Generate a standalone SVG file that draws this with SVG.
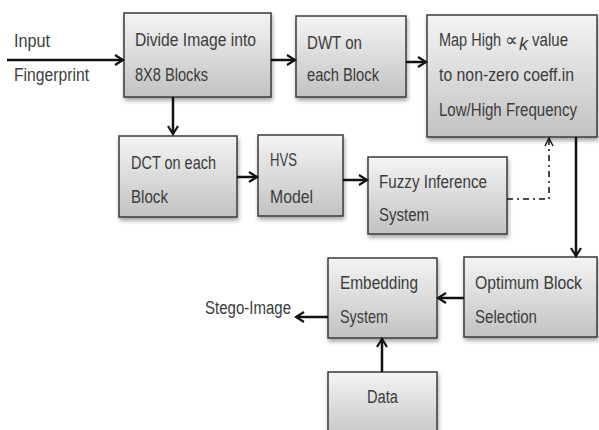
<svg xmlns="http://www.w3.org/2000/svg" width="599" height="430" viewBox="0 0 599 430">
<defs>
  <linearGradient id="g" x1="0" y1="0" x2="0" y2="1">
    <stop offset="0" stop-color="#f4f4f4"/>
    <stop offset="1" stop-color="#c2c2c2"/>
  </linearGradient>
  <filter id="sh" x="-10%" y="-10%" width="130%" height="130%">
    <feGaussianBlur in="SourceAlpha" stdDeviation="2"/>
    <feOffset dx="1" dy="3" result="b"/>
    <feComponentTransfer><feFuncA type="linear" slope="0.35"/></feComponentTransfer>
    <feMerge><feMergeNode/><feMergeNode in="SourceGraphic"/></feMerge>
  </filter>
  <marker id="ah" markerWidth="12" markerHeight="12" refX="10" refY="6" orient="auto" markerUnits="userSpaceOnUse">
    <path d="M2,1 L10,6 L2,11" fill="none" stroke="#111" stroke-width="2.2"/>
  </marker>
  <marker id="ahd" markerWidth="12" markerHeight="12" refX="10" refY="6" orient="auto" markerUnits="userSpaceOnUse">
    <path d="M2,2 L10,6 L2,10" fill="none" stroke="#111" stroke-width="1.4"/>
  </marker>
</defs>
<style>
  .box { fill: url(#g); stroke: #3a3a3a; stroke-width: 1.5; filter: url(#sh); }
  .t { font-family: "Liberation Sans", Arial, sans-serif; font-size: 18px; fill: #3c3c3c; }
  .c { stroke: #111; stroke-width: 2.5; fill: none; marker-end: url(#ah); }
  .d { stroke: #111; stroke-width: 1.5; fill: none; stroke-dasharray: 6 4 2 4; marker-end: url(#ahd); }
</style>

<g id="input-label">
  <text class="t" x="14" y="47" textLength="36" lengthAdjust="spacingAndGlyphs">Input</text>
  <text class="t" x="14" y="81" textLength="75" lengthAdjust="spacingAndGlyphs">Fingerprint</text>
</g>

<g id="divide">
  <rect class="box" x="124" y="13" width="147" height="84"/>
  <text class="t" x="135" y="46" textLength="121" lengthAdjust="spacingAndGlyphs">Divide Image into</text>
  <text class="t" x="135" y="81" textLength="73" lengthAdjust="spacingAndGlyphs">8X8 Blocks</text>
</g>

<g id="dwt">
  <rect class="box" x="296" y="16" width="110" height="81"/>
  <text class="t" x="307" y="49" textLength="55" lengthAdjust="spacingAndGlyphs">DWT on</text>
  <text class="t" x="307" y="81" textLength="72" lengthAdjust="spacingAndGlyphs">each Block</text>
</g>

<g id="map">
  <rect class="box" x="427" y="15" width="170" height="122"/>
  <text class="t" x="439" y="46" textLength="62" lengthAdjust="spacingAndGlyphs">Map High</text>
  <text class="t" x="505" y="46" font-size="16">∝</text>
  <text class="t" x="519" y="50" font-size="12" font-style="italic">k</text>
  <text class="t" x="532" y="46" textLength="36" lengthAdjust="spacingAndGlyphs">value</text>
  <text class="t" x="439" y="81" textLength="135" lengthAdjust="spacingAndGlyphs">to non-zero coeff.in</text>
  <text class="t" x="439" y="116" textLength="138" lengthAdjust="spacingAndGlyphs">Low/High Frequency</text>
</g>

<g id="dct">
  <rect class="box" x="119" y="136" width="118" height="81"/>
  <text class="t" x="131" y="169" textLength="85" lengthAdjust="spacingAndGlyphs">DCT on each</text>
  <text class="t" x="131" y="203" textLength="37" lengthAdjust="spacingAndGlyphs">Block</text>
</g>

<g id="hvs">
  <rect class="box" x="258" y="135" width="85" height="81"/>
  <text class="t" x="270" y="166" textLength="27" lengthAdjust="spacingAndGlyphs">HVS</text>
  <text class="t" x="270" y="203" textLength="43" lengthAdjust="spacingAndGlyphs">Model</text>
</g>

<g id="fuzzy">
  <rect class="box" x="368" y="157" width="139" height="77"/>
  <text class="t" x="379" y="188" textLength="108" lengthAdjust="spacingAndGlyphs">Fuzzy Inference</text>
  <text class="t" x="379" y="221" textLength="50" lengthAdjust="spacingAndGlyphs">System</text>
</g>

<g id="optimum">
  <rect class="box" x="464" y="257" width="133" height="80"/>
  <text class="t" x="475" y="289" textLength="107" lengthAdjust="spacingAndGlyphs">Optimum Block</text>
  <text class="t" x="475" y="323" textLength="62" lengthAdjust="spacingAndGlyphs">Selection</text>
</g>

<g id="embedding">
  <rect class="box" x="328" y="258" width="109" height="80"/>
  <text class="t" x="340" y="289" textLength="78" lengthAdjust="spacingAndGlyphs">Embedding</text>
  <text class="t" x="340" y="323" textLength="48" lengthAdjust="spacingAndGlyphs">System</text>
</g>

<g id="data">
  <rect class="box" x="328" y="372" width="109" height="70"/>
  <text class="t" x="367" y="403" textLength="31" lengthAdjust="spacingAndGlyphs">Data</text>
</g>

<g id="stego-label">
  <text class="t" x="205" y="314" textLength="86" lengthAdjust="spacingAndGlyphs">Stego-Image</text>
</g>

<g id="connectors">
  <line class="c" x1="7" y1="60" x2="123" y2="60"/>
  <line class="c" x1="271" y1="60" x2="295" y2="60"/>
  <line class="c" x1="406" y1="62" x2="426" y2="62"/>
  <line class="c" x1="173" y1="97" x2="173" y2="134"/>
  <line class="c" x1="237" y1="177" x2="257" y2="177"/>
  <line class="c" x1="343" y1="180" x2="367" y2="180"/>
  <polyline class="d" points="507,199 549,199 549,138"/>
  <line class="c" x1="576" y1="137" x2="576" y2="256"/>
  <line class="c" x1="464" y1="298" x2="438" y2="298"/>
  <line class="c" x1="328" y1="317" x2="296" y2="317"/>
  <line class="c" x1="382" y1="372" x2="382" y2="339"/>
</g>
</svg>
